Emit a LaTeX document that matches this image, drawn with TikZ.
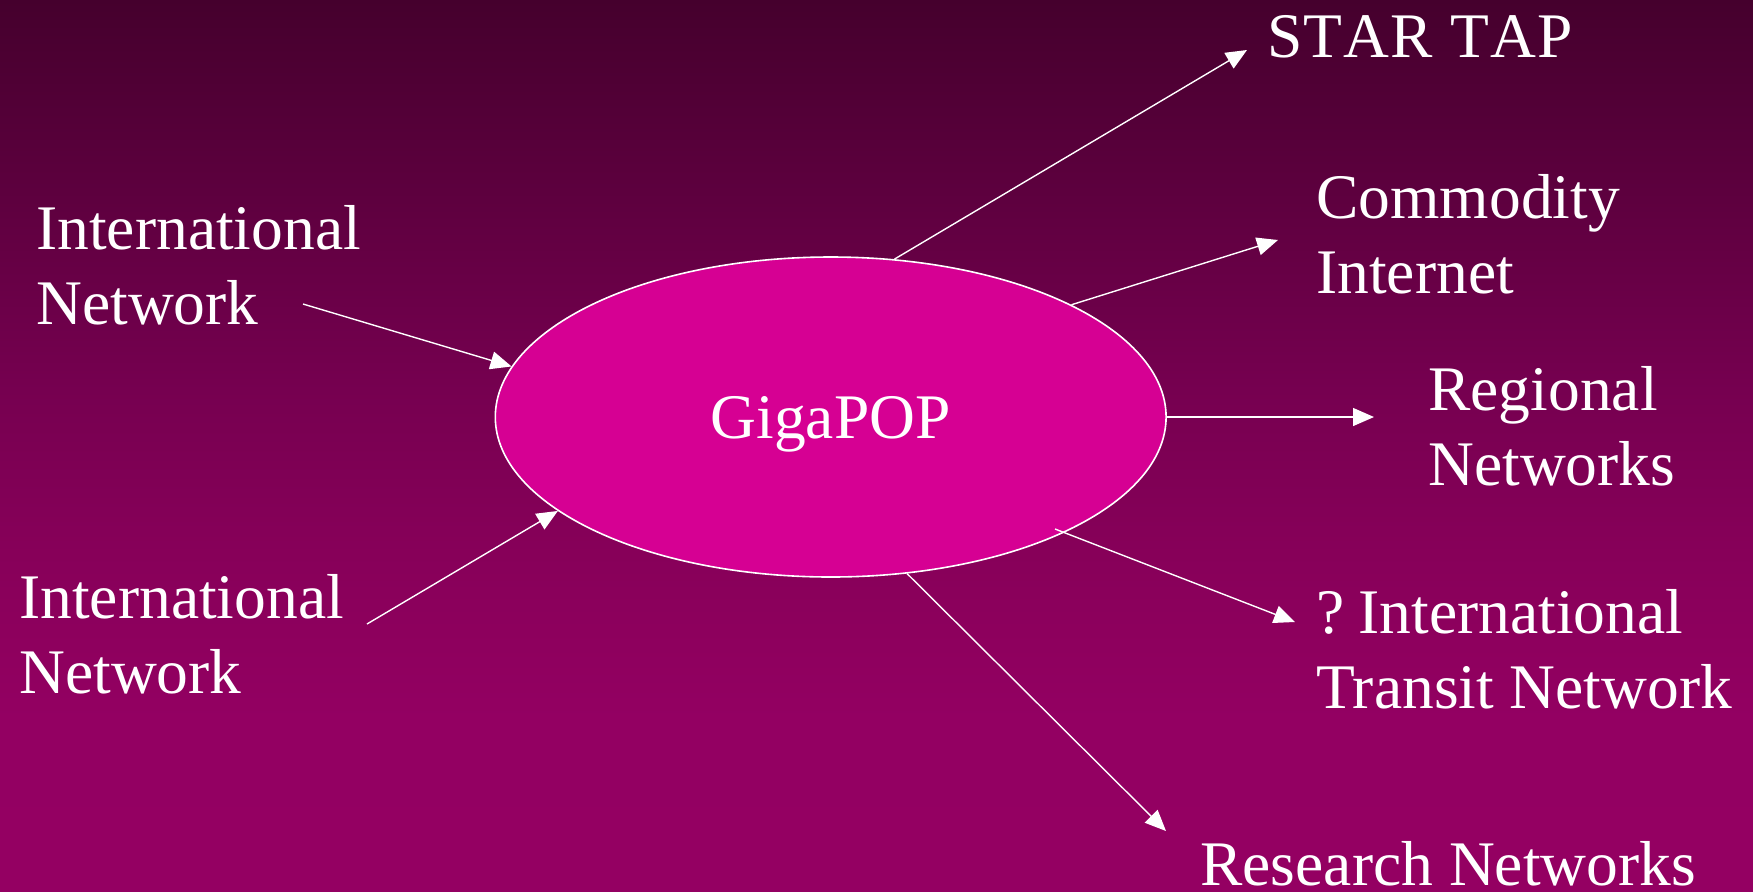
\documentclass[tikz,border=0pt]{standalone}
\usepackage{fontspec}
\setmainfont{Liberation Serif}
\usetikzlibrary{shapes.geometric,arrows.meta}
\definecolor{bgtop}{HTML}{45002D}
\definecolor{bgb}{HTML}{760050}
\definecolor{bgc}{HTML}{850058}
\definecolor{bgd}{HTML}{8D005D}
\definecolor{bge}{HTML}{930062}
\definecolor{bgbot}{HTML}{940062}
\definecolor{gigafill}{HTML}{D60093}
\pgfdeclareverticalshading{slidebg}{100bp}{%
  color(0bp)=(bgbot); color(25bp)=(bgbot); color(34.6bp)=(bge);
  color(39.65bp)=(bgd); color(45.25bp)=(bgc); color(53.1bp)=(bgb);
  color(75bp)=(bgtop); color(100bp)=(bgtop)}
\tikzset{
  lbl/.style={text=white, anchor=base west, inner sep=0pt, align=left,
    font=\fontsize{31.75pt}{37.5pt}\selectfont},
  arr/.style={draw=white, line width=0.7pt, -{Triangle[length=10.5pt,width=9pt]}},
}
\begin{document}
\begin{tikzpicture}[x=0.5pt,y=-0.5pt]
\shade[shading=slidebg] (0,0) rectangle (1753,891);
\useasboundingbox (0,0) rectangle (1753,891);

\node[ellipse, draw=white, line width=0.8pt, fill=gigafill, inner sep=0pt,
  minimum width=335.4pt, minimum height=160pt, text=white, text depth=0pt,
  font=\fontsize{31.75pt}{37.5pt}\selectfont] (giga) at (830.7,417) {GigaPOP};

% base anchor of a two-line label is the baseline of its last line
\node[lbl] (star) at (1267,57) {S\kern0.6pt T\kern0.6pt A\kern0.6pt R\kern0.6pt{} T\kern0.6pt A\kern0.6pt P};
\node[lbl] (comm) at (1316,293) {Commodity\\Internet};
\node[lbl] (regn) at (1428,485) {Regional\\Networks};
\node[lbl] (tran) at (1316,708) {?\kern-3.5pt{} International\\Transit Network};
\node[lbl] (rsch) at (1200,885) {Research Networks};
\node[lbl] (intA) at (36,324) {International\\Network};
\node[lbl] (intB) at (19,693) {International\\Network};

\coordinate (starTip) at (1247,50);
\coordinate (commTip) at (1278,240);
\coordinate (regnTip) at (1374,417);
\coordinate (tranTip) at (1295,622);
\coordinate (rschTip) at (1166,831);
\coordinate (intAStart) at (303,304);
\coordinate (intBStart) at (367,624);
\coordinate (tranStart) at (1055,529);

\draw[arr] (giga.68) -- (starTip);
\draw[arr] (giga.25.2) -- (commTip);
\draw[arr] (giga.east) -- (regnTip);
\draw[arr] (tranStart) -- (tranTip);
\draw[arr] (giga.296.7) -- (rschTip);
\draw[arr] (intAStart) -- (giga.171.4);
\draw[arr] (intBStart) -- (giga.199.4);
\end{tikzpicture}
\end{document}
